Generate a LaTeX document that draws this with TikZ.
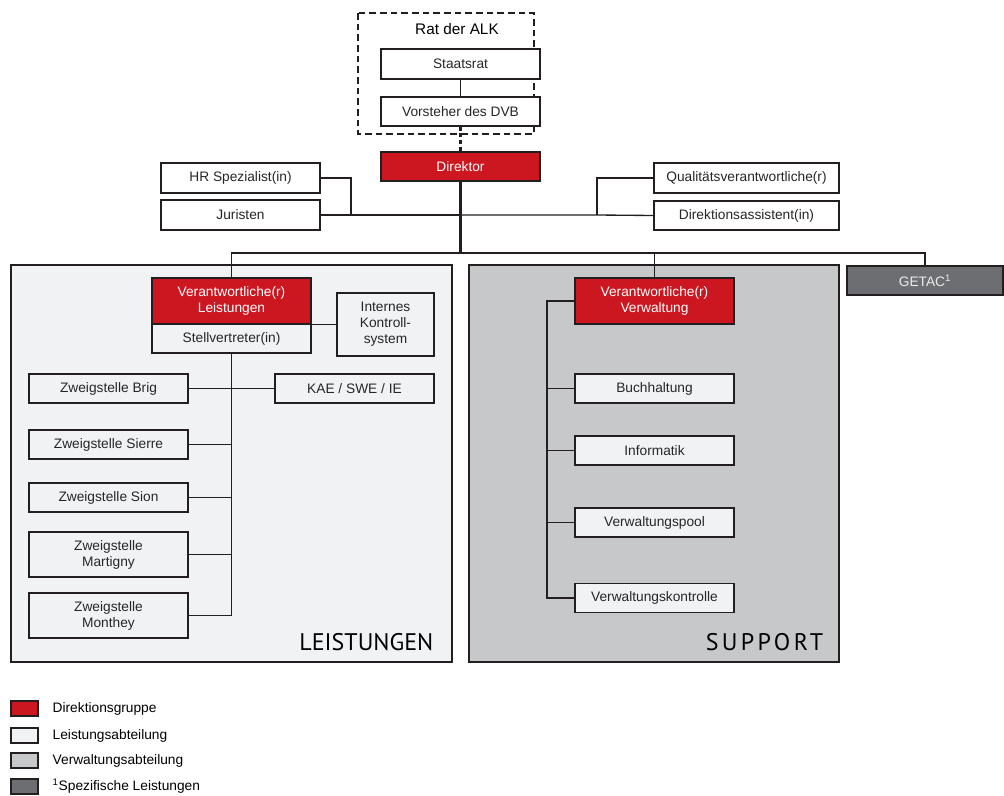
\documentclass[tikz,border=0pt]{standalone}
\usepackage{fontspec}
\setmainfont{Liberation Sans}
\newfontfamily\panelfont{PT Sans}
\newfontfamily\panelfontwide[LetterSpace=14]{PT Sans}
\usepackage{tikz}
\usetikzlibrary{calc}

\definecolor{dirred}{RGB}{204,22,32}
\definecolor{leistfill}{RGB}{241,242,244}
\definecolor{verwfill}{RGB}{199,200,202}
\definecolor{getacfill}{RGB}{109,110,113}
\definecolor{linegray}{RGB}{35,31,32}

\begin{document}
\begin{tikzpicture}[x=0.75pt, y=-0.75pt, font=\fontsize{10.3}{12}\selectfont]
    % Define styles for the boxes
    \tikzstyle{box} = [draw=linegray, line width=1.1pt, fill=white, text=black!85, minimum width=159*0.75pt, minimum height=29*0.75pt, inner sep=1pt, align=center]
    \tikzstyle{redbox} = [box, fill=dirred, text=white]
    \tikzstyle{greybox} = [box, fill=leistfill]
    \tikzstyle{link} = [draw=linegray, line width=1pt]
    \tikzstyle{legendbox} = [draw=linegray, line width=0.8pt, minimum width=27*0.75pt, minimum height=15*0.75pt, inner sep=0pt]

    \useasboundingbox (0,0) rectangle (1004,796);

    % Panels
    \draw[draw=linegray, line width=1.1pt, fill=leistfill] (11,265) rectangle (452,662);
    \draw[draw=linegray, line width=1.1pt, fill=verwfill] (469,265) rectangle (839,662);
    \node[anchor=base east, font=\panelfont\fontsize{18}{21}\selectfont] (leistlabel) at (438,650) {LEISTUNGEN};
    \node[anchor=base east, font=\panelfontwide\fontsize{18}{21}\selectfont] (supportlabel) at (828,650) {SUPPORT};

    % Rat der ALK
    \draw[draw=linegray, line width=2pt, dash pattern=on 5pt off 3pt] (358,13) rectangle (534,134);
    \node[font=\fontsize{11.5}{13}\selectfont] (rat) at (457,29) {Rat der ALK};
    \node[box, minimum height=30*0.75pt] (staatsrat) at (460.5,64) {Staatsrat};
    \node[box] (vorsteher) at (460.5,111.5) {Vorsteher des DVB};

    % Direction
    \node[redbox] (direktor) at (460.5,166.5) {Direktor};
    \node[box, minimum height=30*0.75pt] (hr) at (240.5,178) {HR Spezialist(in)};
    \node[box, minimum height=30*0.75pt] (juristen) at (240.5,215) {Juristen};
    \node[box, minimum width=185*0.75pt, minimum height=30*0.75pt] (quali) at (746.5,178) {Qualitätsverantwortliche(r)};
    \node[box, minimum width=185*0.75pt] (assist) at (746.5,215.5) {Direktionsassistent(in)};
    \node[box, fill=getacfill, text=black!8, minimum width=156*0.75pt] (getac) at (925,280.5) {GETAC\textsuperscript{1}};

    % Leistungen
    \node[redbox, minimum height=46*0.75pt] (leistred) at (231.5,301) {Verantwortliche(r)\\Leistungen};
    \node[greybox] (stellv) at (231.5,338.5) {Stellvertreter(in)};
    \node[greybox, minimum width=97*0.75pt, minimum height=63*0.75pt] (iks) at (385.5,324.5) {Internes\\Kontroll-\\system};
    \node[greybox] (brig) at (108.5,388.5) {Zweigstelle Brig};
    \node[greybox] (kae) at (354.5,388.5) {KAE / SWE / IE};
    \node[greybox] (sierre) at (108.5,444.5) {Zweigstelle Sierre};
    \node[greybox] (sion) at (108.5,497.5) {Zweigstelle Sion};
    \node[greybox, minimum height=45*0.75pt] (martigny) at (108.5,554.5) {Zweigstelle\\Martigny};
    \node[greybox, minimum height=45*0.75pt] (monthey) at (108.5,615.5) {Zweigstelle\\Monthey};

    % Support
    \node[redbox, minimum height=46*0.75pt] (verwred) at (654.5,301) {Verantwortliche(r)\\Verwaltung};
    \node[greybox] (buch) at (654.5,388.5) {Buchhaltung};
    \node[greybox] (info) at (654.5,450.5) {Informatik};
    \node[greybox] (pool) at (654.5,522.5) {Verwaltungspool};
    \node[greybox] (kontrolle) at (654.5,598) {Verwaltungskontrolle};

    % Joints
    \coordinate (bus) at (460.5,253);
    \coordinate (hrjoin) at (351,215);
    \coordinate (qualijoin) at (597,215);
    \coordinate (verwtrunk) at (547,301);

    % Edges
    \draw[link] (staatsrat) -- (vorsteher);
    \draw[link, line width=1.6pt, dash pattern=on 3pt off 2pt] (vorsteher) -- (direktor);
    \draw[link, line width=1.7pt] (direktor) -- (bus);
    \draw[link] (hr.east) -| (hrjoin);
    \draw[link] (juristen.east) -- (hrjoin) -- (hrjoin -| direktor.south);
    \draw[link] (quali.west) -| (qualijoin);
    \draw[link] (assist.west) -- (qualijoin) -- (qualijoin -| direktor.south);
    \draw[link] (leistred.north) |- (getac.north |- bus) -- (getac.north);
    \draw[link] (verwred.north) -- (verwred.north |- bus);

    % Leistungen edges
    \draw[link] (leistred.south east) -- (leistred.south east -| iks.west);
    \draw[link] (stellv.south) |- (monthey.east);
    \draw[link] (brig.east) -- (kae.west);
    \foreach \n in {sierre, sion, martigny}
        \draw[link] (\n.east) -- (\n.east -| stellv.south);

    % Support edges
    \draw[link] (verwred.west) -- (verwtrunk) |- (kontrolle.west);
    \foreach \n in {buch, info, pool}
        \draw[link] (\n.west) -- (\n.west -| verwtrunk);

    % Legend
    \node[legendbox, fill=dirred] (legred) at (24.5,708.5) {};
    \node[legendbox, fill=leistfill] (legleist) at (24.5,735.5) {};
    \node[legendbox, fill=verwfill] (legverw) at (24.5,760.5) {};
    \node[legendbox, fill=getacfill] (leggetac) at (24.5,786.5) {};
    \node[anchor=west] at (48,708.5) {Direktionsgruppe};
    \node[anchor=west] at (48,735.5) {Leistungsabteilung};
    \node[anchor=west] at (48,760.5) {Verwaltungsabteilung};
    \node[anchor=west] at (48,786.5) {\textsuperscript{1}Spezifische Leistungen};
\end{tikzpicture}
\end{document}
